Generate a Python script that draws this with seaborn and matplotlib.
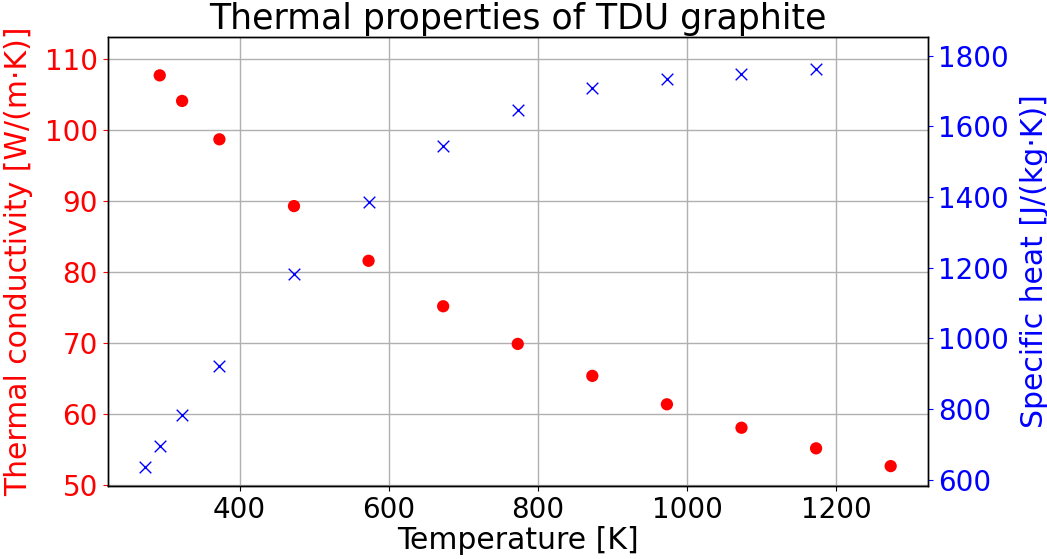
import matplotlib
matplotlib.use("Agg")
import matplotlib.pyplot as plt
import seaborn as sns
import pandas as pd

# Data
temp_k = [293, 323, 373, 473, 573, 673, 773, 873, 973, 1073, 1173, 1273]
conductivity = [107.7, 104.1, 98.7, 89.3, 81.6, 75.2, 69.9, 65.4, 61.4, 58.1, 55.2, 52.7]

temp_cp = [273, 293, 323, 373, 473, 573, 673, 773, 873, 973, 1073, 1173]
specific_heat = [637, 696, 783, 923, 1182, 1387, 1544, 1646, 1709, 1733, 1747, 1762]

title = "Thermal properties of TDU graphite"
xlabel = "Temperature [K]"
ylabel_left = "Thermal conductivity [W/(m\u00b7K)]"
ylabel_right = "Specific heat [J/(kg\u00b7K)]"

sns.set_style("white")
plt.rcParams['font.family'] = ['DejaVu Sans']
plt.rcParams['text.color'] = 'black'
plt.rcParams['axes.labelcolor'] = 'black'

df_k = pd.DataFrame({"T": temp_k, "k": conductivity})
df_c = pd.DataFrame({"T": temp_cp, "cp": specific_heat})

fig = plt.figure(figsize=(10.47, 5.59), dpi=100)
ax = fig.add_subplot(111)
fig.subplots_adjust(left=0.1027, right=0.8863, top=0.9338, bottom=0.1306)

sns.scatterplot(data=df_k, x="T", y="k", ax=ax, color="red", marker="o",
                s=78, edgecolor="none", zorder=3)
ax2 = ax.twinx()
sns.scatterplot(data=df_c, x="T", y="cp", ax=ax2, color="blue", marker="x",
                s=70, linewidth=1.0, zorder=3)

ax.set_xlim(223, 1323)
ax.set_ylim(49.9, 113.1)
ax2.set_ylim(582.7, 1853)
ax.set_xticks([400, 600, 800, 1000, 1200])
ax.set_yticks([50, 60, 70, 80, 90, 100, 110])
ax2.set_yticks([600, 800, 1000, 1200, 1400, 1600, 1800])

ax.grid(True, color="#b0b0b0", linewidth=1.0)
ax.set_axisbelow(True)

ax.set_title(title, fontsize=25, pad=5.5, color="black")
ax.set_xlabel(xlabel, fontsize=21.5, labelpad=2, color="black")
ax.set_ylabel(ylabel_left, fontsize=21.5, color="red", labelpad=8)
ax2.set_ylabel(ylabel_right, fontsize=21.5, color="blue", labelpad=8)

ax.tick_params(axis="x", labelsize=20, colors="black", length=3.5, width=0.8, bottom=True)
ax.tick_params(axis="y", labelsize=20, colors="red", length=3.5, width=0.8, left=True)
ax2.tick_params(axis="y", labelsize=20, colors="blue", length=3.5, width=0.8, right=True)

for a in (ax, ax2):
    for sp in a.spines.values():
        sp.set_color("black")
        sp.set_linewidth(1.0)

fig.savefig("out.png", dpi=100)
